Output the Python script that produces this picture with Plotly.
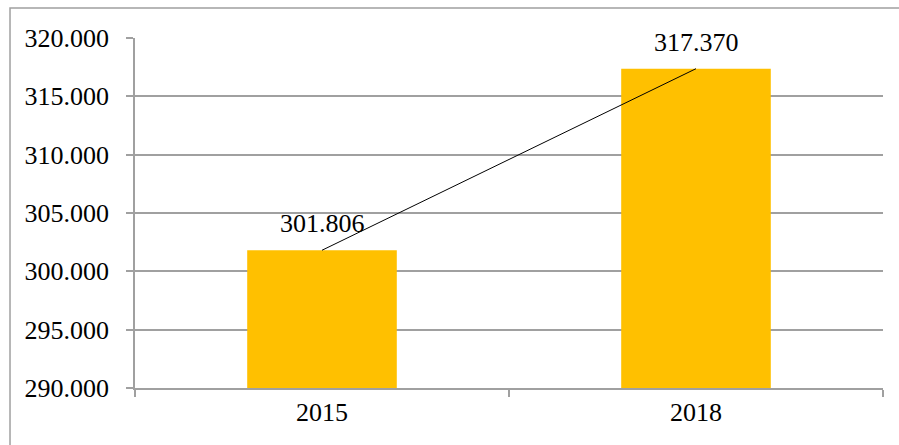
import plotly.graph_objects as go

# Data
years = ["2015", "2018"]
values = [301806, 317370]
y_ticks = [290000, 295000, 300000, 305000, 310000, 315000, 320000]

FONT = "Liberation Serif"
GRID = "#a0a0a0"


def dotted(n):
    return f"{n:,}".replace(",", ".")


fig = go.Figure()

fig.add_trace(go.Bar(
    x=years, y=values, width=0.4,
    marker=dict(color="#FFC000", line=dict(width=0)),
    hoverinfo="skip",
))

# Trend line joining the tops of the bars
fig.add_trace(go.Scatter(
    x=years, y=values, mode="lines",
    line=dict(color="black", width=1),
    hoverinfo="skip",
))

# Value labels above each bar (category index positions)
for i, v in enumerate(values):
    fig.add_annotation(
        x=i, y=v, xref="x", yref="y", text=dotted(v),
        showarrow=False, yanchor="bottom", yshift=10,
        font=dict(family=FONT, size=26, color="black"),
    )

# Outer chart frame
fig.add_shape(
    type="rect", xref="paper", yref="paper",
    x0=-0.1671, x1=1.03, y0=-0.18, y1=1.0857,
    line=dict(color=GRID, width=1.5), fillcolor="rgba(0,0,0,0)",
    layer="below",
)

fig.update_layout(
    width=899, height=445,
    margin=dict(l=135, r=16, t=38, b=57),
    paper_bgcolor="white", plot_bgcolor="white",
    showlegend=False,
    font=dict(family=FONT, size=26, color="black"),
    xaxis=dict(
        type="category", range=[-0.5, 1.5],
        showline=True, linecolor=GRID, linewidth=1.5,
        ticks="outside", tickson="boundaries", ticklen=7,
        tickcolor=GRID, tickwidth=1.5,
        showgrid=False, zeroline=False,
        tickfont=dict(family=FONT, size=26, color="black"),
    ),
    yaxis=dict(
        range=[290000, 320000],
        tickvals=y_ticks,
        ticktext=[dotted(t) for t in y_ticks],
        showline=True, linecolor=GRID, linewidth=1.5,
        ticks="outside", ticklen=7, tickcolor=GRID, tickwidth=1.5,
        ticklabelstandoff=12,
        showgrid=True, gridcolor=GRID, gridwidth=1.5,
        zeroline=False,
        tickfont=dict(family=FONT, size=26, color="black"),
    ),
)

fig.write_html("out.html")
